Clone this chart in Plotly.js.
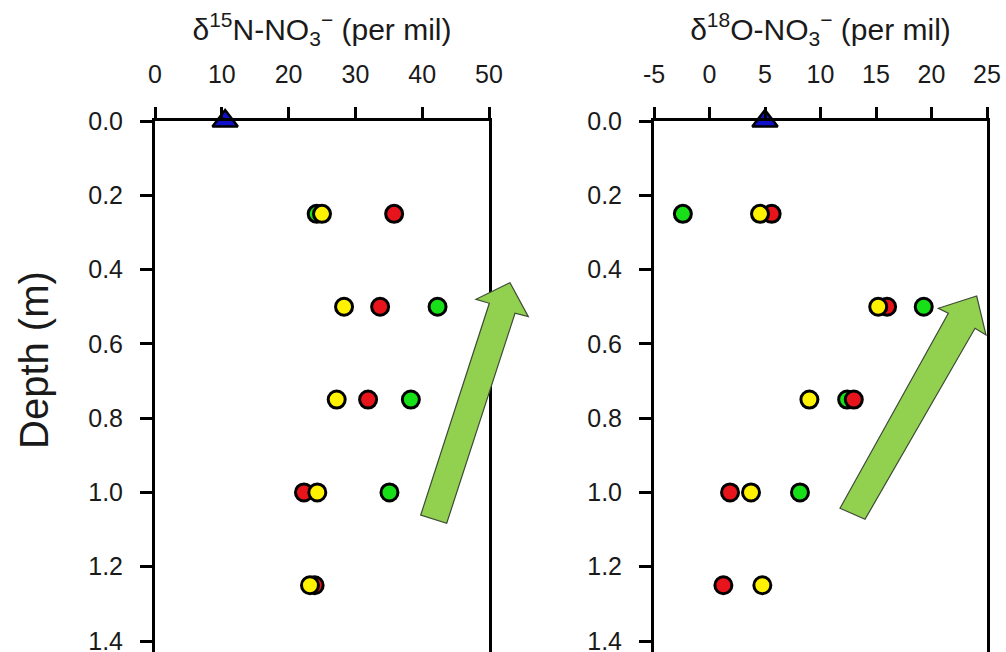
<!DOCTYPE html>
<html>
<head>
<meta charset="utf-8">
<script src="https://cdn.plot.ly/plotly-3.0.1.min.js"></script>
<style>html,body{margin:0;padding:0;background:#fff;}#chart{width:1006px;height:652px;}</style>
</head>
<body>
<div id="chart"></div>
<script>
// ---- data ----
const depth = [0.25, 0.5, 0.75, 1.0, 1.25];
const n15Green  = [24.2, 42.3, 38.3, 35.1, null];
const n15Red    = [35.8, 33.7, 31.9, 22.3, 23.9];
const n15Yellow = [25.0, 28.3, 27.2, 24.3, 23.2];
const o18Green  = [-2.4, 19.3, 12.4, 8.15, null];
const o18Red    = [5.6, 16.0, 13.0, 1.85, 1.25];
const o18Yellow = [4.55, 15.2, 9.0, 3.74, 4.76];
const atmDepth = [0];
const atmN15 = [10.5];
const atmO18 = [5.0];

const xTicksN = [0, 10, 20, 30, 40, 50];
const xTicksO = [-5, 0, 5, 10, 15, 20, 25];
const yTicks = [0.0, 0.2, 0.4, 0.6, 0.8, 1.0, 1.2, 1.4];

// decorative block arrows (pixel outline points)
const arrowLeft = [[420.7,515],[489.3,303.3],[476,299.3],[510,282.7],[528.3,316.7],[515,313.3],[446.7,523.3]];
const arrowRight = [[840,508.3],[948.3,313.3],[938.3,308.3],[976.7,296],[986,335],[975,328.3],[865,519.3]];

// ---- layout geometry ----
const W = 1006, H = 652;
const M = {l:155, r:19, t:121, b:0};
const PW = W - M.l - M.r, PH = H - M.t - M.b;
function toPaper(p){ return [(p[0]-M.l)/PW, (H - M.b - p[1])/PH]; }
function pathOf(pts){
  return pts.map((p,i)=>{const q=toPaper(p); return (i?'L':'M')+q[0].toFixed(4)+','+q[1].toFixed(4);}).join(' ')+' Z';
}

const FONT = 'Liberation Sans, Arial, sans-serif';
const circ = (color)=>({symbol:'circle', size:17, color:color, line:{color:'#000', width:3}});
const tri = {symbol:'triangle-up', size:22, color:'#1010c8', line:{color:'#000', width:2.5}};

function series(x, y, color, xa, ya){
  return {x:x, y:y, xaxis:xa, yaxis:ya, type:'scatter', mode:'markers', marker:circ(color), hoverinfo:'x+y'};
}

const data = [
  series(n15Green, depth, '#18e018', 'x', 'y'),
  series(n15Red, depth, '#e8141b', 'x', 'y'),
  series(n15Yellow, depth, '#fff200', 'x', 'y'),
  {x:atmN15, y:atmDepth, xaxis:'x', yaxis:'y', type:'scatter', mode:'markers', marker:tri, cliponaxis:false},
  series(o18Green, depth, '#18e018', 'x2', 'y2'),
  series(o18Red, depth, '#e8141b', 'x2', 'y2'),
  series(o18Yellow, depth, '#fff200', 'x2', 'y2'),
  {x:atmO18, y:atmDepth, xaxis:'x2', yaxis:'y2', type:'scatter', mode:'markers', marker:tri, cliponaxis:false}
];

const yRange = [1.4 + 11/371.4, 0];

function xAxis(domain, range, ticks, title, anchor){
  return {
    domain: domain, range: range, side:'top', anchor: anchor,
    tickmode:'array', tickvals: ticks, ticktext: ticks.map(String),
    ticks:'outside', ticklen:11, tickwidth:3, tickcolor:'#000',
    showline:true, linewidth:3, linecolor:'#000', mirror:false,
    showgrid:false, zeroline:false,
    tickfont:{family:FONT, size:25, color:'#1a1a1a'},
    ticklabelstandoff: 14,
    title:{text:title, font:{family:FONT, size:30, color:'#1a1a1a'}, standoff:11}
  };
}
function yAxis(anchor){
  return {
    range: yRange, anchor: anchor, domain:[0,1],
    tickmode:'array', tickvals: yTicks, ticktext: yTicks.map(v=>v.toFixed(1)),
    ticks:'outside', ticklen:12, tickwidth:3, tickcolor:'#000',
    showline:true, linewidth:3, linecolor:'#000', mirror:true,
    showgrid:false, zeroline:false,
    ticklabeloverflow:'allow',
    tickfont:{family:FONT, size:25, color:'#1a1a1a'},
    ticklabelstandoff: 12
  };
}

const layout = {
  width:W, height:H,
  margin:M,
  paper_bgcolor:'#fff', plot_bgcolor:'#fff',
  showlegend:false,
  xaxis: xAxis([0, 334/PW], [0, 50], xTicksN, 'δ<sup>15</sup>N-NO<sub>3</sub><sup>−</sup> (per mil)', 'y'),
  yaxis: yAxis('x'),
  xaxis2: xAxis([499/PW, 1], [-5, 25], xTicksO, 'δ<sup>18</sup>O-NO<sub>3</sub><sup>−</sup> (per mil)', 'y2'),
  yaxis2: yAxis('x2'),
  annotations:[{
    text:'Depth (m)', textangle:-90, showarrow:false,
    xref:'paper', yref:'paper',
    x: toPaper([34, 360])[0], y: toPaper([34, 360])[1],
    xanchor:'center', yanchor:'middle',
    font:{family:FONT, size:40, color:'#1a1a1a'}
  }],
  shapes:[
    {type:'path', xref:'paper', yref:'paper', path:pathOf(arrowLeft), fillcolor:'#92d050', line:{color:'#3d4a35', width:1.2}, layer:'above'},
    {type:'path', xref:'paper', yref:'paper', path:pathOf(arrowRight), fillcolor:'#92d050', line:{color:'#3d4a35', width:1.2}, layer:'above'}
  ]
};

Plotly.newPlot('chart', data, layout, {displayModeBar:false, staticPlot:true});
</script>
</body>
</html>
